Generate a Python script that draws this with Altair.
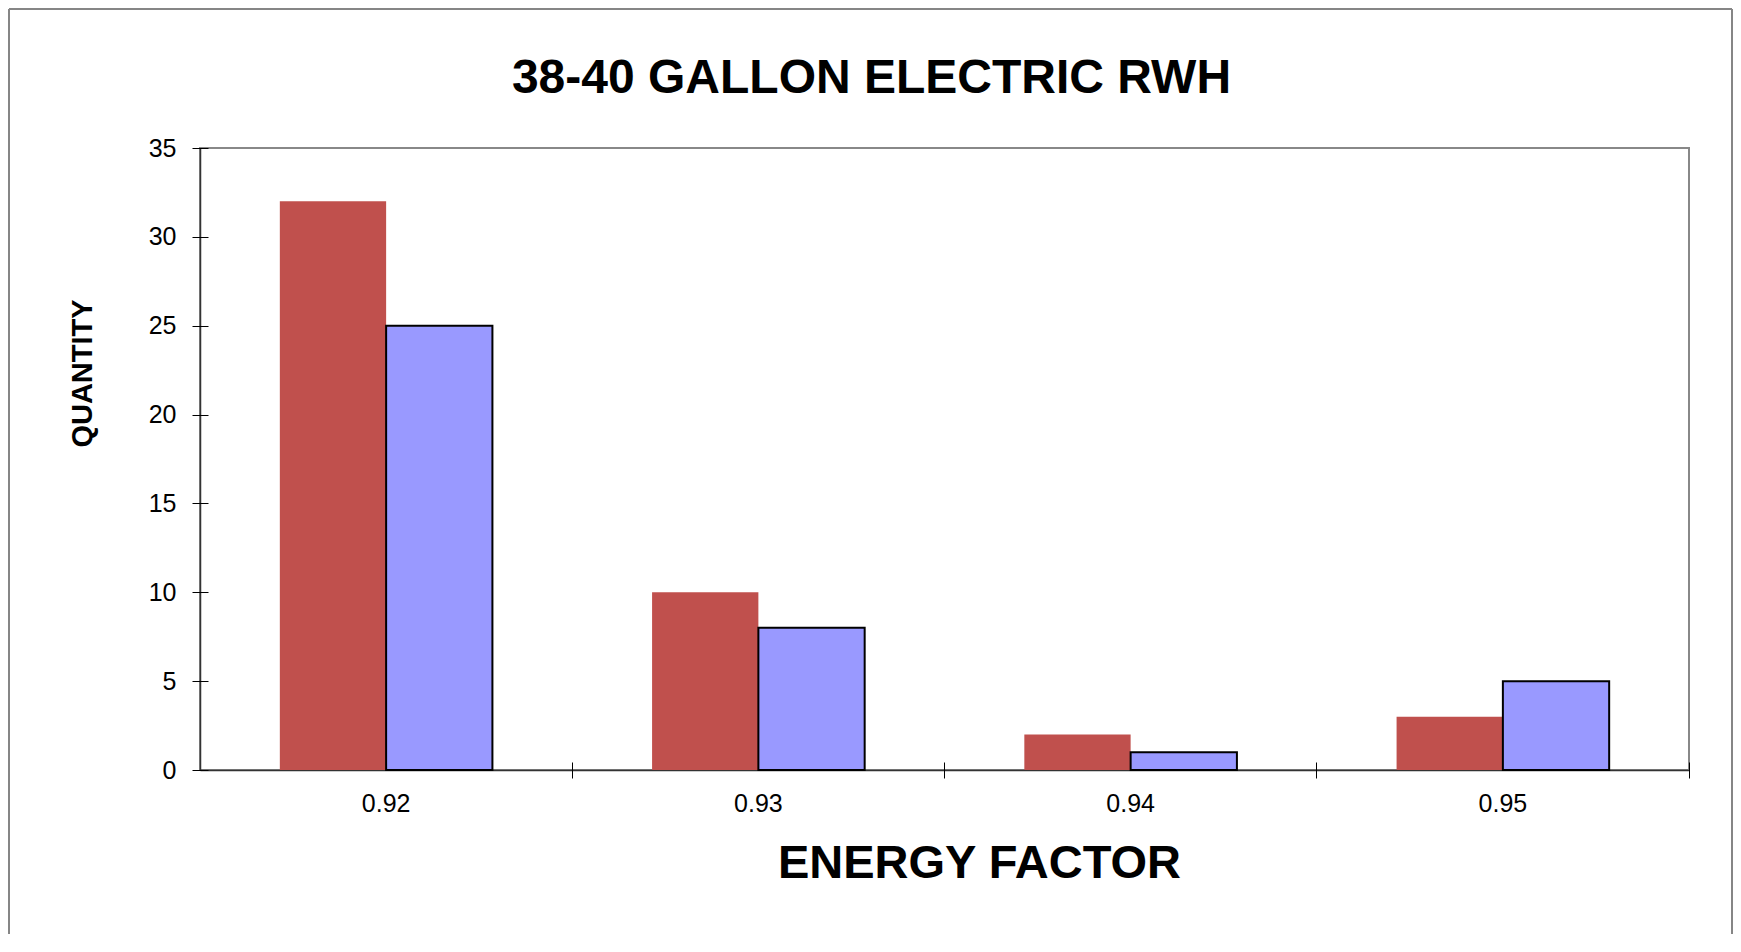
import altair as alt
import pandas as pd

categories = ["0.92", "0.93", "0.94", "0.95"]
series_names = ["Series 1", "Series 2"]
series1 = [32, 10, 2, 3]
series2 = [25, 8, 1, 5]
y_ticks = [0, 5, 10, 15, 20, 25, 30, 35]
chart_title = "38-40 GALLON ELECTRIC RWH"

rows = []
for c, a, b in zip(categories, series1, series2):
    rows.append({"ef": c, "series": series_names[0], "qty": a})
    rows.append({"ef": c, "series": series_names[1], "qty": b})
df = pd.DataFrame(rows)

FONT = "Liberation Sans"
W, H = 1489, 622

x_scale = alt.Scale(domain=categories, paddingInner=0, paddingOuter=0)
y_scale = alt.Scale(domain=[0, 35], nice=False)
off_scale = alt.Scale(domain=series_names, paddingInner=0, paddingOuter=0.751)
color_scale = alt.Scale(domain=series_names, range=["#C0504D", "#9999FF"])
stroke_scale = alt.Scale(domain=series_names, range=["transparent", "#000000"])

base = alt.Chart(df)

bars = base.mark_bar(strokeWidth=2).encode(
    x=alt.X("ef:N", scale=x_scale, sort=categories, axis=alt.Axis(
        title="ENERGY FACTOR", labelAngle=0, ticks=False, tickSize=0, domain=True,
        labelFontSize=25, labelPadding=21, labelFont=FONT, labelColor="#000",
        titleFont=FONT, titleFontSize=47, titleFontWeight="bold", titleColor="#000",
        titleBaseline="alphabetic", titleX=779, titleY=107,
        domainColor="#333", domainWidth=1.5)),
    xOffset=alt.XOffset("series:N", scale=off_scale, sort=series_names),
    y=alt.Y("qty:Q", scale=y_scale, axis=alt.Axis(
        title="QUANTITY", values=y_ticks, ticks=False, tickSize=0, grid=False,
        labelFontSize=25, labelPadding=24, labelFont=FONT, labelColor="#000",
        titleFont=FONT, titleFontSize=29, titleFontWeight="bold", titleColor="#000",
        titleBaseline="alphabetic", titleAngle=270, titleX=-109, titleY=225,
        domainColor="#333", domainWidth=1.5)),
    color=alt.Color("series:N", scale=color_scale, legend=None),
    stroke=alt.Stroke("series:N", scale=stroke_scale, legend=None),
)

tick_layer = base.mark_bar(opacity=0).encode(
    x=alt.X("ef:N", scale=x_scale, sort=categories, axis=alt.Axis(
        orient="bottom", title=None, labels=False, domain=False, ticks=True,
        tickSize=16, offset=-8, bandPosition=1, tickColor="#000", tickWidth=1)),
    y=alt.Y("qty:Q", scale=y_scale, axis=alt.Axis(
        orient="left", title=None, labels=False, domain=False, ticks=True, grid=False,
        tickSize=16, offset=-8, values=y_ticks, tickColor="#000", tickWidth=1)),
)

title_layer = base.mark_bar(opacity=0).encode(
    x=alt.X("ef:N", scale=x_scale, sort=categories, axis=alt.Axis(
        orient="top", title=chart_title, labels=False, domain=False, ticks=False,
        titleFont=FONT, titleFontSize=48, titleFontWeight="bold", titleColor="#000",
        titleBaseline="alphabetic", titleX=671, titleY=-56)),
)

one = alt.Chart(pd.DataFrame({"k": [0]}))
FR = "#868686"
frame_top = one.mark_rule(color=FR, strokeWidth=2).encode(
    x=alt.value(-191), x2=alt.value(1532), y=alt.value(-139))
frame_left = one.mark_rule(color=FR, strokeWidth=2).encode(
    x=alt.value(-191), y=alt.value(-139), y2=alt.value(800))
frame_right = one.mark_rule(color=FR, strokeWidth=2).encode(
    x=alt.value(1532), y=alt.value(-139), y2=alt.value(800))

chart = alt.layer(bars, tick_layer, title_layer, frame_top, frame_left, frame_right).resolve_axis(
    x="independent", y="independent"
).properties(
    width=W, height=H,
    autosize=alt.AutoSizeParams(type="none"),
    padding={"left": 192, "top": 140, "right": 44, "bottom": 164},
).configure_view(stroke="#888888", strokeWidth=2)

chart.save("out.html", embed_options={"renderer": "svg", "actions": False})
